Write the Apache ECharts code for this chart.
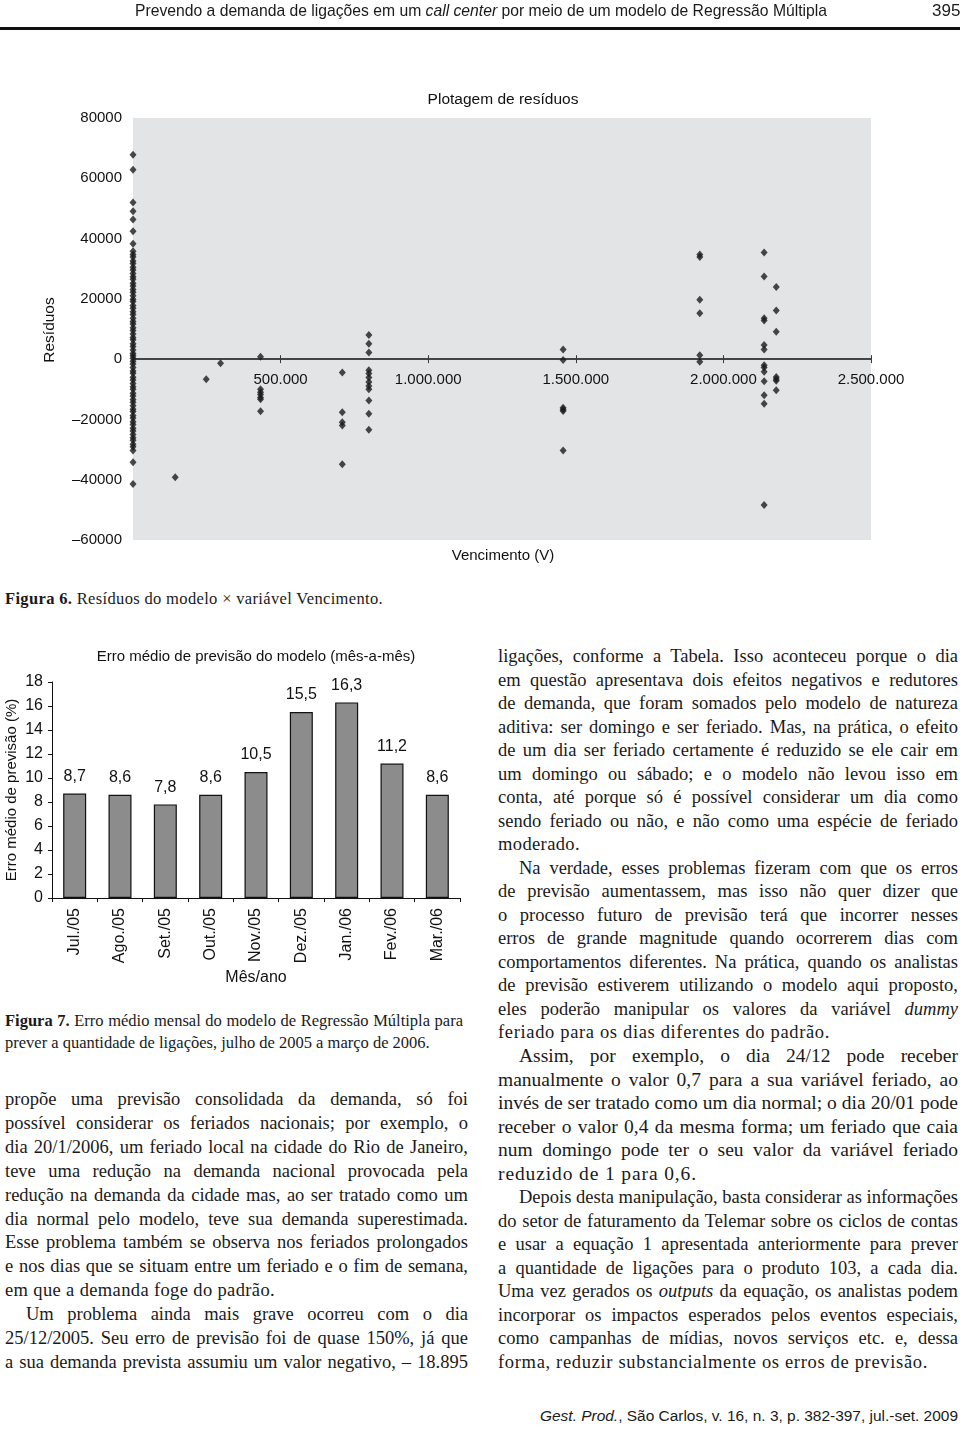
<!DOCTYPE html>
<html><head><meta charset="utf-8">
<script src="https://cdn.jsdelivr.net/npm/echarts@6/dist/echarts.min.js"></script>
<style>
html,body{margin:0;padding:0;background:#fff;}
body{width:960px;height:1429px;position:relative;overflow:hidden;font-family:"Liberation Serif","Times New Roman",serif;color:#1a1a1a;}
.abs{position:absolute;white-space:nowrap;}
.ln{position:absolute;white-space:nowrap;height:24px;line-height:24px;}
.ln span{white-space:nowrap;}
.sans{font-family:"Liberation Sans",Arial,sans-serif;}
</style></head><body>
<div id="scatter" style="position:absolute;left:0;top:0;width:960px;height:580px"></div>
<div id="bars" style="position:absolute;left:0;top:630px;width:480px;height:370px"></div>
<div id="hdr" class="abs" style="left:135px;top:1px;height:20px;line-height:20px;font-family:'Liberation Sans Narrow','Arial Narrow','Liberation Sans',sans-serif;font-size:17px;transform-origin:0 50%;">Prevendo a demanda de ligações em um <i>call center</i> por meio de um modelo de Regressão Múltipla</div>
<div class="abs" style="left:932px;top:1px;height:20px;line-height:20px;font-family:'Liberation Sans Narrow','Arial Narrow','Liberation Sans',sans-serif;font-size:17px;">395</div>
<div style="position:absolute;left:0;top:27px;width:960px;height:3px;background:#111"></div>
<div id="text"></div>
<div id="ftr" class="abs sans" style="left:540px;top:1407px;height:18px;line-height:18px;font-size:14px;transform-origin:0 50%;"><i>Gest. Prod.</i>, São Carlos, v. 16, n. 3, p. 382-397, jul.-set. 2009</div>
<script>
// ---------- Scatter data: residuals grouped by Vencimento (V) ----------
const vencimentos = [0, 143000, 248000, 296600, 432000, 709000, 799000, 1457000, 1920000, 2138000, 2179000];
const residuosV0 = [67800, 62800, 52000, 49100, 46300, 42400, 38300,
  35800, 34700, 33900, 32600, 31700, 30500, 29600, 28400, 27300, 26500, 25200, 24300, 23100, 22200, 21000,
  19900, 19100, 17800, 16900, 15700, 14800, 13600, 12500, 11700, 10400, 9500, 8300, 7200, 6400, 5100, 4200,
  3000, 1900, 1100, 300, -700, -1600, -2800, -3900, -4700, -6000, -6900, -8100, -9200, -10000, -11300,
  -12200, -13400, -14300, -15500, -16600, -17400, -18700, -19500, -20800, -21700, -22900, -23800, -25000,
  -26100, -26900, -28200, -29100, -30300, -34200, -41400];
const residuosV143k = [-39200];
const residuosV248k = [-6700];
const residuosV297k = [-1400];
const residuosV432k = [800, -10000, -11000, -11700, -12700, -13300, -17300];
const residuosV709k = [-4400, -17600, -20900, -22000, -34900];
const residuosV799k = [8000, 5100, 2200, -3700, -4800, -6100, -7600, -8900, -10000, -13700, -18100, -23400];
const residuosV1457k = [3200, -300, -16100, -16700, -17200, -30300];
const residuosV1920k = [34700, 33900, 19700, 15200, 1300, -900];
const residuosV2138k = [35400, 27400, 13600, 12800, 4700, 3200, -2000, -2800, -4200, -7300, -12000, -14800, -48400];
const residuosV2179k = [23900, 16100, 9100, -5900, -6600, -7200, -10300];
const residuosGrupos = [residuosV0, residuosV143k, residuosV248k, residuosV297k, residuosV432k, residuosV709k,
  residuosV799k, residuosV1457k, residuosV1920k, residuosV2138k, residuosV2179k];
const xTicks = [0, 500000, 1000000, 1500000, 2000000, 2500000];
const yTicks = [-60000, -40000, -20000, 0, 20000, 40000, 60000, 80000];

// ---------- Bar data ----------
const meses = ['Jul./05','Ago./05','Set./05','Out./05','Nov./05','Dez./05','Jan./06','Fev./06','Mar./06'];
const erroMedio = [8.7, 8.6, 7.8, 8.6, 10.5, 15.5, 16.3, 11.2, 8.6];

const F = 'Liberation Sans, Arial, sans-serif';
const scatterData = [];
vencimentos.forEach((v, i) => residuosGrupos[i].forEach(r => scatterData.push([v, r])));
function fmtBR(v){ return String(v).replace(/\B(?=(\d{3})+(?!\d))/g, '.'); }

const G = {left:133, top:118, width:738, height:422};
const yMin = yTicks[0], yMax = yTicks[yTicks.length - 1];
const zeroFromTop = G.height * yMax / (yMax - yMin);
const sc = echarts.init(document.getElementById('scatter'), null, {renderer:'canvas'});
const xAxisCommon = {
  type:'value', min:xTicks[0], max:xTicks[xTicks.length-1], interval:500000,
  splitLine:{show:false},
  axisLine:{show:true, onZero:false, lineStyle:{color:'#3a3a3a', width:1.5}},
  axisTick:{show:true, length:4, lineStyle:{color:'#3a3a3a', width:1}}
};
sc.setOption({
  animation:false,
  grid:Object.assign({show:true, backgroundColor:'#e3e4e6', borderWidth:0}, G),
  xAxis:[
    Object.assign({}, xAxisCommon, {position:'bottom', offset:-(G.height - zeroFromTop),
      axisLabel:{formatter:v => v === 0 ? '' : fmtBR(v), color:'#111', fontSize:15, fontFamily:F, margin:13, showMaxLabel:true}}),
    Object.assign({}, xAxisCommon, {position:'top', offset:-zeroFromTop, axisLabel:{show:false}})
  ],
  yAxis:{type:'value', min:yMin, max:yMax, interval:20000,
    axisLine:{show:false}, axisTick:{show:false}, splitLine:{show:false},
    axisLabel:{formatter:v => v < 0 ? '\u2013' + (-v) : String(v), color:'#111', fontSize:15, fontFamily:F, margin:11}},
  series:[{type:'scatter', xAxisIndex:0, symbol:'diamond', symbolSize:[7,8], clip:false,
    itemStyle:{color:'#1c1c1c'}, data:scatterData}],
  graphic:[
    {type:'text', x:503, y:100, style:{text:'Plotagem de resíduos', fontSize:15.5, fontFamily:F, fill:'#111', align:'center', verticalAlign:'middle'}},
    {type:'text', x:503, y:556, style:{text:'Vencimento (V)', fontSize:15, fontFamily:F, fill:'#111', align:'center', verticalAlign:'middle'}},
    {type:'text', x:50, y:330, rotation:Math.PI/2, style:{text:'Resíduos', fontSize:15.5, fontFamily:F, fill:'#111', align:'center', verticalAlign:'middle'}}
  ]
});

const bc = echarts.init(document.getElementById('bars'), null, {renderer:'canvas'});
bc.setOption({
  animation:false,
  grid:{left:52, top:52, width:408, height:216},
  xAxis:{type:'category', data:meses,
    axisLine:{lineStyle:{color:'#111', width:1}},
    axisTick:{show:true, length:4, lineStyle:{color:'#111'}},
    axisLabel:{rotate:90, interval:0, fontSize:16, fontFamily:F, color:'#111', margin:10}},
  yAxis:{type:'value', min:0, max:18, interval:2,
    axisLine:{show:true, lineStyle:{color:'#111', width:1}},
    axisTick:{show:true, length:4, lineStyle:{color:'#111'}},
    splitLine:{show:false},
    axisLabel:{fontSize:16, fontFamily:F, color:'#111', margin:9}},
  series:[{type:'bar', data:erroMedio, barWidth:23,
    itemStyle:{color:'#8c8c8c', borderColor:'#111', borderWidth:1.2},
    label:{show:true, position:'top', distance:9, fontSize:16, fontFamily:F, color:'#111',
      formatter:p => String(p.value).replace('.', ',')}}],
  graphic:[
    {type:'text', x:256, y:27, style:{text:'Erro médio de previsão do modelo (mês-a-mês)', fontSize:15, fontFamily:F, fill:'#111', align:'center', verticalAlign:'middle'}},
    {type:'text', x:256, y:348, style:{text:'Mês/ano', fontSize:16, fontFamily:F, fill:'#111', align:'center', verticalAlign:'middle'}},
    {type:'text', x:12, y:160, rotation:Math.PI/2, style:{text:'Erro médio de previsão (%)', fontSize:15, fontFamily:F, fill:'#111', align:'center', verticalAlign:'middle'}}
  ]
});

// ---------- Page text ----------
// [html, indent, justify(1) / plain(0) / -target width of last line, font size]
const rightLines = [
 ['ligações, conforme a Tabela. Isso aconteceu porque o dia',0,1,18.5],
 ['em questão apresentava dois efeitos negativos e redutores',0,1,18.5],
 ['de demanda, que foram somados pelo modelo de natureza',0,1,18.5],
 ['aditiva: ser domingo e ser feriado. Mas, na prática, o efeito',0,1,18.5],
 ['de um dia ser feriado certamente é reduzido se ele cair em',0,1,18.5],
 ['um domingo ou sábado; e o modelo não levou isso em',0,1,18.5],
 ['conta, até porque só é possível considerar um dia como',0,1,18.5],
 ['sendo feriado ou não, e não como uma espécie de feriado',0,1,18.5],
 ['moderado.',0,-82,18.5],
 ['Na verdade, esses problemas fizeram com que os erros',1,1,18.5],
 ['de previsão aumentassem, mas isso não quer dizer que',0,1,18.5],
 ['o processo futuro de previsão terá que incorrer nesses',0,1,18.5],
 ['erros de grande magnitude quando ocorrerem dias com',0,1,18.5],
 ['comportamentos diferentes. Na prática, quando os analistas',0,1,18.5],
 ['de previsão estiverem utilizando o modelo aqui proposto,',0,1,18.5],
 ['eles poderão manipular os valores da variável <i>dummy</i>',0,1,18.5],
 ['feriado para os dias diferentes do padrão.',0,-332,18.5],
 ['Assim, por exemplo, o dia 24/12 pode receber',1,1,19.5],
 ['manualmente o valor 0,7 para a sua variável feriado, ao',0,1,19.5],
 ['invés de ser tratado como um dia normal; o dia 20/01 pode',0,1,19.5],
 ['receber o valor 0,4 da mesma forma; um feriado que caia',0,1,19.5],
 ['num domingo pode ter o seu valor da variável feriado',0,1,19.5],
 ['reduzido de 1 para 0,6.',0,-199,19.5],
 ['Depois desta manipulação, basta considerar as informações',1,1,18.5],
 ['do setor de faturamento da Telemar sobre os ciclos de contas',0,1,18.5],
 ['e usar a equação 1 apresentada anteriormente para prever',0,1,18.5],
 ['a quantidade de ligações para o produto 103, a cada dia.',0,1,18.5],
 ['Uma vez gerados os <i>outputs</i> da equação, os analistas podem',0,1,18.5],
 ['incorporar os impactos esperados pelos eventos especiais,',0,1,18.5],
 ['como campanhas de mídias, novos serviços etc. e, dessa',0,1,18.5],
 ['forma, reduzir substancialmente os erros de previsão.',0,-430,18.5]
];
const leftLines = [
 ['propõe uma previsão consolidada da demanda, só foi',0,1,18.5],
 ['possível considerar os feriados nacionais; por exemplo, o',0,1,18.5],
 ['dia 20/1/2006, um feriado local na cidade do Rio de Janeiro,',0,1,18.5],
 ['teve uma redução na demanda nacional provocada pela',0,1,18.5],
 ['redução na demanda da cidade mas, ao ser tratado como um',0,1,18.5],
 ['dia normal pelo modelo, teve sua demanda superestimada.',0,1,18.5],
 ['Esse problema também se observa nos feriados prolongados',0,1,18.5],
 ['e nos dias que se situam entre um feriado e o fim de semana,',0,1,18.5],
 ['em que a demanda foge do padrão.',0,-270,18.5],
 ['Um problema ainda mais grave ocorreu com o dia',1,1,18.5],
 ['25/12/2005. Seu erro de previsão foi de quase 150%, já que',0,1,18.5],
 ['a sua demanda prevista assumiu um valor negativo, \u2013 18.895',0,1,18.5]
];
const textRoot = document.getElementById('text');
const toJustify = [], toStretch = [];
function addLine(html, x, w, cy, size, indent, mode){
  const d = document.createElement('div');
  d.className = 'ln';
  d.style.left = (x + indent) + 'px';
  d.style.top = (cy - 12) + 'px';
  d.style.fontSize = size + 'px';
  const s = document.createElement('span');
  s.innerHTML = html;
  d.appendChild(s);
  textRoot.appendChild(d);
  if (mode === 1) toJustify.push([s, w - indent]);
  else if (mode < 0) toStretch.push([s, -mode]);
}
rightLines.forEach((l, i) => addLine(l[0], 498, 460, 656 + i * 23.53, l[3], l[1] ? 21 : 0, l[2]));
leftLines.forEach((l, i) => addLine(l[0], 5, 463, 1099 + i * 23.9, l[3], l[1] ? 21 : 0, l[2]));
addLine('<b>Figura 6.</b> Resíduos do modelo × variável Vencimento.', 5, 378, 599, 16.5, 0, -378);
addLine('<b>Figura 7.</b> Erro médio mensal do modelo de Regressão Múltipla para', 5, 458, 1021, 16.5, 0, 1);
addLine('prever a quantidade de ligações, julho de 2005 a março de 2006.', 5, 458, 1043, 16.5, 0, 0);
toJustify.forEach(([s, w]) => {
  const nat = s.getBoundingClientRect().width;
  const n = (s.textContent.match(/ /g) || []).length;
  if (n > 0) s.style.wordSpacing = ((w - nat) / n) + 'px';
});
toStretch.forEach(([s, w]) => {
  const nat = s.getBoundingClientRect().width;
  const n = s.textContent.length;
  if (n > 1) s.style.letterSpacing = ((w - nat) / n) + 'px';
});
function fit(id, w){ const e = document.getElementById(id); const nat = e.getBoundingClientRect().width; e.style.transform = 'scaleX(' + (w / nat) + ')'; }
fit('hdr', 692);
fit('ftr', 418);
</script>
</body></html>
